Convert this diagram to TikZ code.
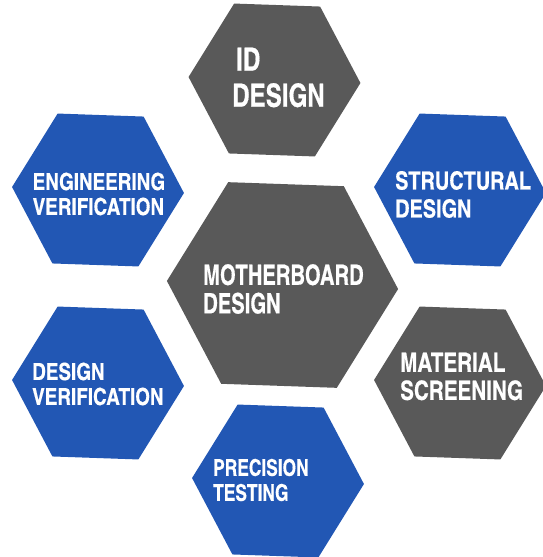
\documentclass[tikz,border=0pt]{standalone}
\usepackage{fontspec}
\definecolor{hexblue}{RGB}{34,87,180}
\definecolor{hexgray}{RGB}{89,89,89}
\tikzset{%
    hexa/.pic={%
        \fill[pic actions] (-86,0) -- (-43,-75) -- (43,-75)
            -- (86,0) -- (43,75) -- (-43,75) -- cycle;
    },
    hextext/.style n args={3}{%
        text=white, align=left, anchor=west, inner sep=0pt,
        font={\fontspec[FakeStretch=#3,FakeBold=0.4]{TeX Gyre Heros Cn}%
            \bfseries\fontsize{#1}{#2}\selectfont}
    }
}

\begin{document}
\begin{tikzpicture}[x=1pt, y=-1pt, every pic/.style={rotate=-2}]
\useasboundingbox (0,0) rectangle (542,557);
% hexagons
\pic[fill=hexgray] at (274.5,80) {hexa};
\pic[fill=hexblue] at (98,190) {hexa};
\pic[fill=hexblue] at (460,190) {hexa};
\pic[fill=hexgray, scale=1.345] at (282.5,285) {hexa};
\pic[fill=hexblue] at (98,383) {hexa};
\pic[fill=hexgray] at (460,383) {hexa};
\pic[fill=hexblue] at (278,481) {hexa};
% labels
\node[hextext={32}{36}{0.92}] (id) at (232,77.5) {\hspace*{4pt}ID\\DESIGN};
\node[hextext={23.5}{25}{0.98}] (eng) at (32.5,194) {ENGINEERING\\VERIFICATION};
\node[hextext={25}{28}{0.97}] (struct) at (395,194.5) {STRUCTURAL\\DESIGN};
\node[hextext={28}{28.5}{0.88}] (mother) at (203,289) {MOTHERBOARD\\DESIGN};
\node[hextext={26.5}{28}{0.95}] (mat) at (400,376.5) {MATERIAL\\SCREENING};
\node[hextext={23.5}{25}{0.98}] (dver) at (32,384) {DESIGN\\VERIFICATION};
\node[hextext={23}{25}{0.92}] (prec) at (213,480) {PRECISION\\TESTING};
\end{tikzpicture}
\end{document}
